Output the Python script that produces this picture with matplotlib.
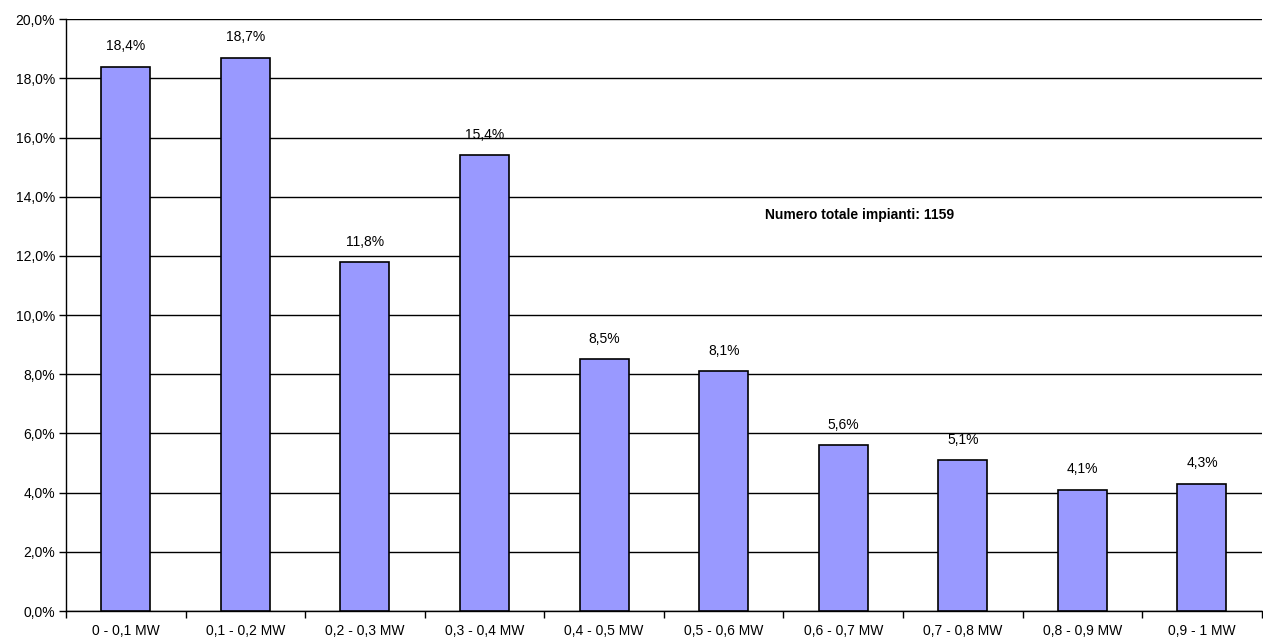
import numpy as np
import matplotlib.pyplot as plt
from matplotlib.ticker import FuncFormatter

categorie = ['0 - 0,1 MW', '0,1 - 0,2 MW', '0,2 - 0,3 MW', '0,3 - 0,4 MW', '0,4 - 0,5 MW',
             '0,5 - 0,6 MW', '0,6 - 0,7 MW', '0,7 - 0,8 MW', '0,8 - 0,9 MW', '0,9 - 1 MW']
percentuali = [18.4, 18.7, 11.8, 15.4, 8.5, 8.1, 5.6, 5.1, 4.1, 4.3]
nota = 'Numero totale impianti: 1159'

plt.rcParams['font.family'] = ['Liberation Sans', 'DejaVu Sans']

fig = plt.figure(figsize=(12.63, 6.4), dpi=100)
ax = fig.add_axes([0.0523, 0.0453, 0.9467, 0.9247])

x = np.arange(len(categorie))
ax.bar(x, percentuali, width=0.41, color='#9999FF', edgecolor='black', linewidth=1.2, zorder=3)

for xi, v in zip(x, percentuali):
    ax.text(xi, v + 0.45, f'{v:.1f}%'.replace('.', ','), ha='center', va='bottom', fontsize=10)

ax.text(6.14, 13.38, nota, ha='center', va='center', fontsize=10, fontweight='bold')

ax.set_xlim(-0.5, len(categorie) - 0.5)
ax.set_ylim(0, 20)
ax.set_yticks(np.arange(0, 21, 2))
ax.yaxis.set_major_formatter(FuncFormatter(lambda v, p: f'{v:.1f}%'.replace('.', ',')))
ax.grid(axis='y', color='black', linewidth=1, zorder=0)

ax.set_xticks(x)
ax.set_xticklabels(categorie)
ax.set_xticks(np.arange(-0.5, len(categorie)), minor=True)
ax.tick_params(axis='x', which='major', length=0, pad=9, labelsize=10)
ax.tick_params(axis='x', which='minor', length=5, width=1, direction='out')
ax.tick_params(axis='y', length=5, width=1, labelsize=10, pad=3)

for s in ['top', 'right']:
    ax.spines[s].set_visible(False)
ax.spines['left'].set_linewidth(1)
ax.spines['bottom'].set_linewidth(1)

fig.savefig('out.png', dpi=100)
